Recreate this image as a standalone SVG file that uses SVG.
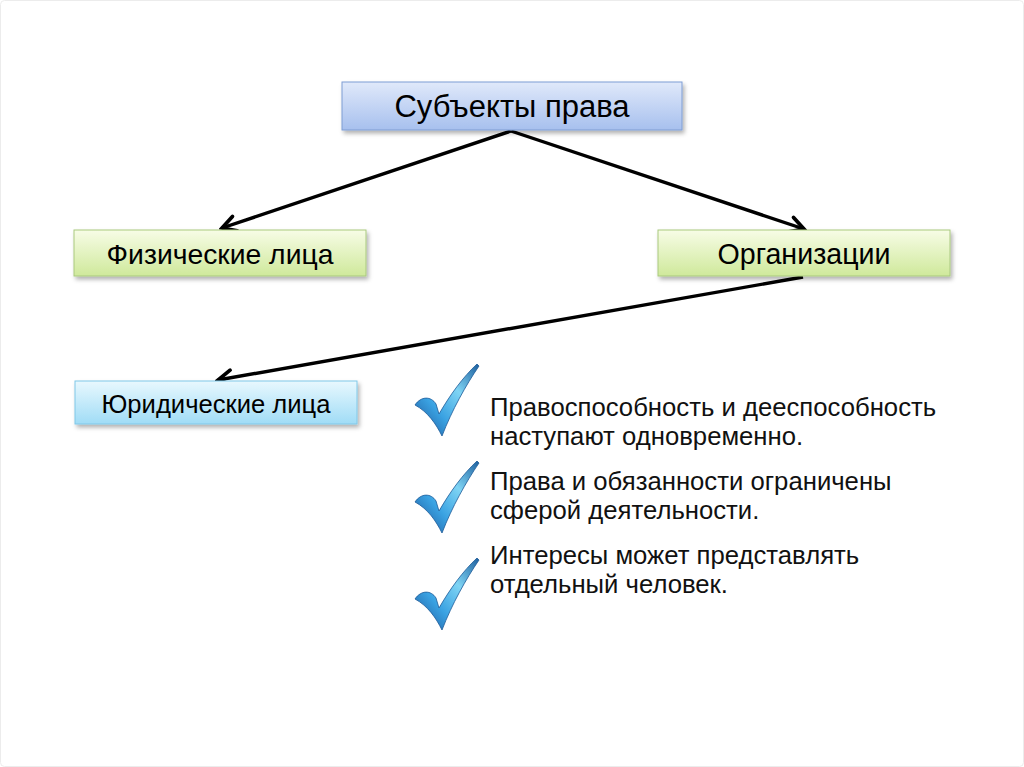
<svg xmlns="http://www.w3.org/2000/svg" xmlns:xlink="http://www.w3.org/1999/xlink" width="1024" height="767" viewBox="0 0 1024 767">
<style>
.lbl{font-family:"Liberation Sans",Arial,sans-serif;fill:#000;text-anchor:middle}
.txt{font-family:"Liberation Sans",Arial,sans-serif;fill:#111;font-size:25.7px}
.conn{stroke:#000;stroke-width:3.4;fill:none;marker-end:url(#ah)}
</style>
<defs>
<linearGradient id="gBlue" x1="0" y1="0" x2="0" y2="1"><stop offset="0" stop-color="#e0e9fa"/><stop offset="1" stop-color="#a7c0ee"/></linearGradient>
<linearGradient id="gGreen" x1="0" y1="0" x2="0" y2="1"><stop offset="0" stop-color="#f7fce6"/><stop offset="1" stop-color="#cfe99b"/></linearGradient>
<linearGradient id="gCyan" x1="0" y1="0" x2="0" y2="1"><stop offset="0" stop-color="#e8f8fe"/><stop offset="1" stop-color="#a0dcf6"/></linearGradient>
<linearGradient id="gCheck" x1="1" y1="0" x2="0" y2="1"><stop offset="0" stop-color="#1c5f9e"/><stop offset="0.35" stop-color="#7fd4f4"/><stop offset="0.65" stop-color="#3aa2e2"/><stop offset="1" stop-color="#1a4f94"/></linearGradient>
<filter id="sh" x="-5%" y="-20%" width="110%" height="150%"><feDropShadow dx="2" dy="3" stdDeviation="2" flood-color="#000" flood-opacity="0.3"/></filter>
<marker id="ah" viewBox="0 0 12 12" refX="10" refY="6" markerWidth="6" markerHeight="6" markerUnits="strokeWidth" orient="auto"><polyline points="2,1.5 10,6 2,10.5" fill="none" stroke="#000" stroke-width="2.2" stroke-linecap="round" stroke-linejoin="miter"/></marker>
<path id="chk" d="M415,405 C421,396 431,396 436,404 L439,414 C450,395 463,377 477,364 L479,366 C466,385 452,410 442,436 C436,424 428,412 415,405 Z" fill="url(#gCheck)" stroke="#1d5a98" stroke-width="0.8"/>
</defs>
<rect x="0.5" y="0.5" width="1023" height="766" rx="4" fill="#fff" stroke="#ececec"/>
<g id="connectors">
<line class="conn" x1="511" y1="131" x2="222" y2="228"/>
<line class="conn" x1="511" y1="131" x2="804" y2="229"/>
<line class="conn" x1="803" y1="277" x2="218" y2="380"/>
</g>
<g id="n-subjects"><rect x="342" y="82" width="340" height="48" fill="url(#gBlue)" stroke="#7f9dd3" filter="url(#sh)"/><text class="lbl" x="512" y="117" font-size="31">Субъекты права</text></g>
<g id="n-physical"><rect x="74" y="230" width="292" height="46" fill="url(#gGreen)" stroke="#a9c97f" filter="url(#sh)"/><text class="lbl" x="220" y="264" font-size="28.3">Физические лица</text></g>
<g id="n-org"><rect x="658" y="230" width="292" height="46" fill="url(#gGreen)" stroke="#a9c97f" filter="url(#sh)"/><text class="lbl" x="804" y="264" font-size="28.6">Организации</text></g>
<g id="n-legal"><rect x="75" y="381" width="282" height="43" fill="url(#gCyan)" stroke="#80c8e8" filter="url(#sh)"/><text class="lbl" x="216" y="413" font-size="25.6">Юридические лица</text></g>
<g id="checks">
<use xlink:href="#chk"/>
<use xlink:href="#chk" transform="translate(0,97)"/>
<use xlink:href="#chk" transform="translate(0,194)"/>
</g>
<g id="bullets">
<text class="txt" x="490" y="416">Правоспособность и дееспособность</text>
<text class="txt" x="490" y="445">наступают одновременно.</text>
<text class="txt" x="490" y="490">Права и обязанности ограничены</text>
<text class="txt" x="490" y="519">сферой деятельности.</text>
<text class="txt" x="490" y="564">Интересы может представлять</text>
<text class="txt" x="490" y="593">отдельный человек.</text>
</g>
</svg>
